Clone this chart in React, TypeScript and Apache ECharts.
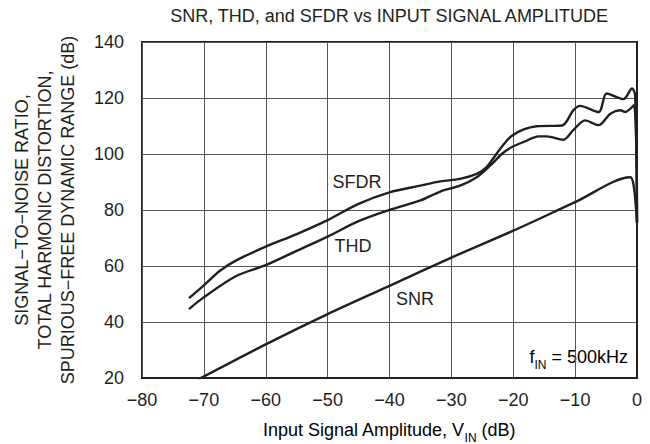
import React, { useEffect, useRef } from 'react';
import * as echarts from 'echarts';

const xMin = -80;
const xMax = 0;
const xStep = 10;
const yMin = 20;
const yMax = 140;
const yStep = 20;

const sfdrIn = [-72.4, -70.1, -67.4, -64.7, -60, -55, -50, -45, -40, -35, -31.8, -28.6, -25.9, -24.3, -22.7, -21, -20.1, -18.3, -16.2, -12.1, -10.3, -9.2, -6.2, -4.9, -2.2, -0.8, -0.3, 0];
const sfdrDb = [48.5, 52.9, 58.3, 62.1, 66.9, 71.4, 76.4, 82.2, 86.3, 88.7, 90.2, 91.1, 92.9, 95.3, 100.1, 104.9, 106.7, 108.8, 109.9, 110.2, 115.6, 117.2, 115, 121.6, 119.6, 123.4, 121, 75.5];

const thdIn = [-72.4, -70.1, -64.7, -60, -55, -50, -45, -40, -35, -31.8, -28.6, -25.9, -23.7, -21.8, -20.2, -18.3, -15.9, -14.6, -11.9, -10.3, -8.4, -6.2, -4.3, -2.7, -1.9, -0.5, 0];
const thdDb = [44.6, 48.7, 56.5, 60.3, 65.4, 70.5, 76, 80, 83.4, 86.6, 88.7, 91.7, 95.9, 100.1, 102.5, 104.3, 106.3, 106.3, 105.1, 108.5, 112, 110.3, 114.4, 115.6, 115, 117.4, 75.5];

const snrIn = [-70.9, -60, -50, -40, -30, -20, -10, -1.1, -0.5, 0];
const snrDb = [19.5, 32, 42.8, 52.9, 63, 72.6, 82.8, 91.7, 88.1, 75.5];

const titleText = 'SNR, THD, and SFDR vs INPUT SIGNAL AMPLITUDE';
const yAxisLines = ['SIGNAL\u2212TO\u2212NOISE RATIO,', 'TOTAL HARMONIC DISTORTION,', 'SPURIOUS\u2212FREE DYNAMIC RANGE (dB)'];

const FONT = '"Liberation Sans", Arial, Helvetica, sans-serif';
const INK = '#231f20';
const FS = 18;

const zip = (a: number[], b: number[]) => a.map((x, i) => [x, b[i]]);
const fmt = (v: number) => (v < 0 ? '\u2212' + Math.abs(v) : String(v));

export default function App() {
  const ref = useRef<HTMLDivElement>(null);
  useEffect(() => {
    if (!ref.current) return;
    const chart = echarts.init(ref.current, undefined, { renderer: 'svg' });
    const lineStyle = { color: INK, width: 2.4 };
    const mkSeries = (name: string, data: number[][]) => ({
      name,
      type: 'line',
      data,
      smooth: 0.3,
      showSymbol: false,
      symbol: 'none',
      lineStyle,
      itemStyle: { color: INK },
      clip: true,
    });
    const rich = {
      m: { fontSize: FS, fontFamily: FONT, color: INK, lineHeight: 28, verticalAlign: 'middle' },
      s: { fontSize: 12, fontFamily: FONT, color: INK, lineHeight: 28, verticalAlign: 'bottom' },
    };
    chart.setOption({
      animation: false,
      backgroundColor: '#ffffff',
      textStyle: { fontFamily: FONT },
      grid: {
        left: 142,
        right: 13,
        top: 42,
        bottom: 66,
        show: true,
        borderColor: INK,
        borderWidth: 2,
        backgroundColor: 'transparent',
      },
      xAxis: {
        type: 'value',
        min: xMin,
        max: xMax,
        interval: xStep,
        axisLine: { show: true, lineStyle: { color: INK, width: 2 } },
        axisTick: { show: false },
        splitLine: { show: true, lineStyle: { color: '#555', width: 1 } },
        axisLabel: { color: INK, fontSize: FS, fontFamily: FONT, margin: 13, formatter: fmt },
      },
      yAxis: {
        type: 'value',
        min: yMin,
        max: yMax,
        interval: yStep,
        axisLine: { show: true, lineStyle: { color: INK, width: 2 } },
        axisTick: { show: false },
        splitLine: { show: true, lineStyle: { color: '#555', width: 1 } },
        axisLabel: { color: INK, fontSize: FS, fontFamily: FONT, margin: 18, formatter: fmt },
      },
      series: [
        mkSeries('SFDR', zip(sfdrIn, sfdrDb)),
        mkSeries('THD', zip(thdIn, thdDb)),
        mkSeries('SNR', zip(snrIn, snrDb)),
      ],
      graphic: [
        {
          type: 'text',
          x: 389,
          y: 16,
          style: { text: titleText, font: `${FS}px ${FONT}`, fill: INK, align: 'center', verticalAlign: 'middle' },
        },
        {
          type: 'text',
          x: 45,
          y: 210,
          rotation: Math.PI / 2,
          style: {
            text: yAxisLines.join('\n'),
            font: `${FS}px ${FONT}`,
            fill: INK,
            align: 'center',
            verticalAlign: 'middle',
            lineHeight: 23,
          },
        },
        {
          type: 'text',
          x: 389,
          y: 430,
          style: {
            text: '{m|Input Signal Amplitude, V}{s|IN}{m| (dB)}',
            align: 'center',
            verticalAlign: 'middle',
            rich,
          },
        },
        {
          type: 'text',
          x: 357,
          y: 182,
          style: { text: 'SFDR', font: `${FS}px ${FONT}`, fill: INK, align: 'center', verticalAlign: 'middle' },
        },
        {
          type: 'text',
          x: 353,
          y: 246,
          style: { text: 'THD', font: `${FS}px ${FONT}`, fill: INK, align: 'center', verticalAlign: 'middle' },
        },
        {
          type: 'text',
          x: 415,
          y: 299,
          style: { text: 'SNR', font: `${FS}px ${FONT}`, fill: INK, align: 'center', verticalAlign: 'middle' },
        },
        {
          type: 'text',
          x: 628,
          y: 357,
          style: {
            text: '{m|f}{s|IN}{m| = 500kHz}',
            align: 'right',
            verticalAlign: 'middle',
            rich,
          },
        },
      ],
    });
    return () => chart.dispose();
  }, []);
  return (
    <div
      ref={ref}
      style={{ position: 'fixed', left: 0, top: 0, width: 650, height: 444, background: '#fff' }}
    />
  );
}
